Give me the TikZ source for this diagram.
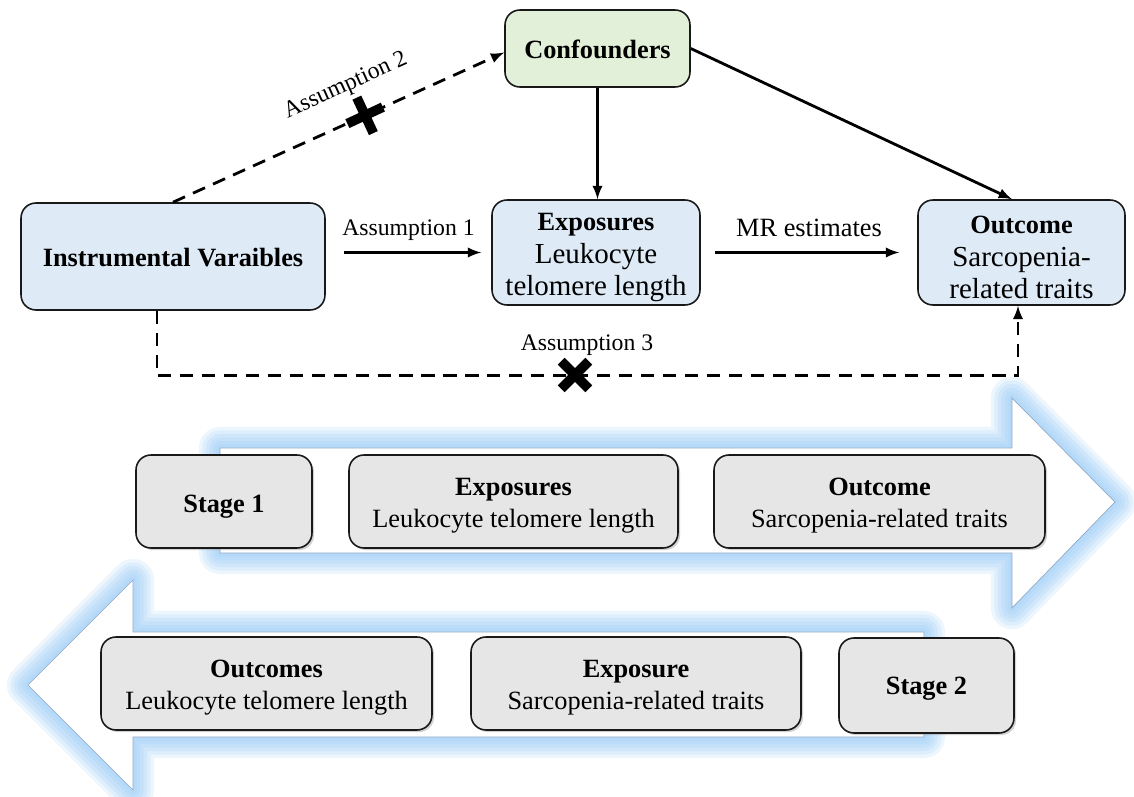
\documentclass[tikz,border=0pt]{standalone}
\usepackage{fontspec}
\setmainfont{Liberation Serif}
\usetikzlibrary{shapes.misc,shadows}
\tikzset{>=latex}
\definecolor{boxblue}{HTML}{DEEBF7}
\definecolor{boxgreen}{HTML}{E2F0D9}
\definecolor{boxgray}{HTML}{E6E6E6}
\definecolor{glowblue}{HTML}{8CC4F4}
\definecolor{arrowedge}{HTML}{8FA8C6}
\newcommand\boxtitle[1]{{\fontsize{15}{18.5}\selectfont\bfseries #1}}
\newcommand\bodyfont{\fontsize{16.5}{18.5}\selectfont}
\newcommand\stagefont{\fontsize{15}{18}\selectfont}
\newcommand\labelfont{\fontsize{13.5}{16}\selectfont}
\tikzset{
  mrbox/.style={draw=black!90, line width=0.9pt, rounded corners=8.5pt,
    inner sep=0pt, align=center, fill=boxblue, font=\bodyfont},
  stagebox/.style={mrbox, fill=boxgray, font=\stagefont,
    drop shadow={shadow xshift=1.2pt, shadow yshift=-1.2pt, opacity=.35}},
  link/.style={->, line width=1.6pt},
  dashlink/.style={link, dash pattern=on 7.5pt off 5pt},
  nogo/.style={cross out, draw, solid, line width=5.5pt, minimum size=0.36cm, inner sep=0pt},
  edgelabel/.style={font=\labelfont, inner sep=0pt},
}
% outlines of the two stage arrows
\def\stageonepath{(220,448) -- (1012,448) -- (1012,398) -- (1115,502)
  -- (1012,608) -- (1012,553) -- (220,553) -- cycle}
\def\stagetwopath{(924,632) -- (133,632) -- (133,580) -- (28,685)
  -- (133,790) -- (133,737) -- (924,737) -- cycle}

\begin{document}
\begin{tikzpicture}[x=0.02cm, y=-0.02cm]
  \useasboundingbox (0,0) rectangle (1134,797);

  % the MR diagram
  \node[mrbox, fill=boxgreen, minimum width=3.7cm, minimum height=1.54cm, text height=12pt]
    (conf) at (597.5,48.5) {\boxtitle{Confounders}};
  \node[mrbox, minimum width=6.08cm, minimum height=2.14cm, text height=12pt]
    (iv) at (173,256.5) {\boxtitle{Instrumental Varaibles}};
  \node[mrbox, minimum width=4.16cm, minimum height=2.1cm, text height=53pt]
    (expo) at (596,252.5) {\boxtitle{Exposures}\\Leukocyte\\telomere length};
  \node[mrbox, minimum width=4.14cm, minimum height=2.1cm, text height=53pt]
    (outc) at (1021.5,252.5) {\boxtitle{Outcome}\\Sarcopenia-\\related traits};

  \draw[link] (conf.south) -- (conf.south |- expo.north);
  \draw[link] (conf.east) -- ([xshift=-0.19cm]outc.north);
  \draw[link, shorten <=0.36cm, shorten >=0.2cm] (iv.east |- expo.center) -- (expo.west)
    node[edgelabel, midway, above=6pt] (a1) {Assumption 1};
  \draw[link, shorten <=0.28cm, shorten >=0.36cm] (expo.east) -- (outc.west)
    node[edgelabel, font=\fontsize{15}{18}\selectfont, midway, above=8pt] (mr) {MR estimates};
  \draw[dashlink] (iv.north) -- ([yshift=-0.08cm]conf.west)
    node[nogo, pos=0.58, rotate=-20] (x2) {}
    node[edgelabel, pos=0.565, sloped, above=13pt] (a2) {Assumption 2};
  \draw[dashlink] ([xshift=-0.32cm]iv.south) -- ++(0,65) -| ([xshift=-0.07cm]outc.south);
  \node[nogo] (x3) at (575,375) {};
  \node[edgelabel] (a3) at (587,345) {Assumption 3};

  % the two stages
  \foreach \w in {24,20,...,4} {
    \draw[glowblue, line width=\w pt, opacity=.16, line join=round] \stageonepath;
    \draw[glowblue, line width=\w pt, opacity=.16, line join=round] \stagetwopath;
  }
  \draw[arrowedge, fill=white, line width=0.4pt] \stageonepath;
  \draw[arrowedge, fill=white, line width=0.4pt] \stagetwopath;

  \node[stagebox, minimum width=3.52cm, minimum height=1.86cm, text height=15.5pt]
    (s1) at (224,501.5) {\textbf{Stage 1}};
  \node[stagebox, minimum width=6.58cm, minimum height=1.86cm, text height=32.5pt]
    (s1expo) at (513.5,501.5) {\textbf{Exposures}\\Leukocyte telomere length};
  \node[stagebox, minimum width=6.62cm, minimum height=1.86cm, text height=32.5pt]
    (s1outc) at (879.5,501.5) {\textbf{Outcome}\\Sarcopenia-related traits};
  \node[stagebox, minimum width=6.62cm, minimum height=1.86cm, text height=32.5pt]
    (s2outc) at (266.5,683.5) {\textbf{Outcomes}\\Leukocyte telomere length};
  \node[stagebox, minimum width=6.6cm, minimum height=1.86cm, text height=32.5pt]
    (s2expo) at (636,683.5) {\textbf{Exposure}\\Sarcopenia-related traits};
  \node[stagebox, minimum width=3.5cm, minimum height=1.9cm, text height=13.5pt]
    (s2) at (926.5,685.5) {\textbf{Stage 2}};
\end{tikzpicture}
\end{document}
